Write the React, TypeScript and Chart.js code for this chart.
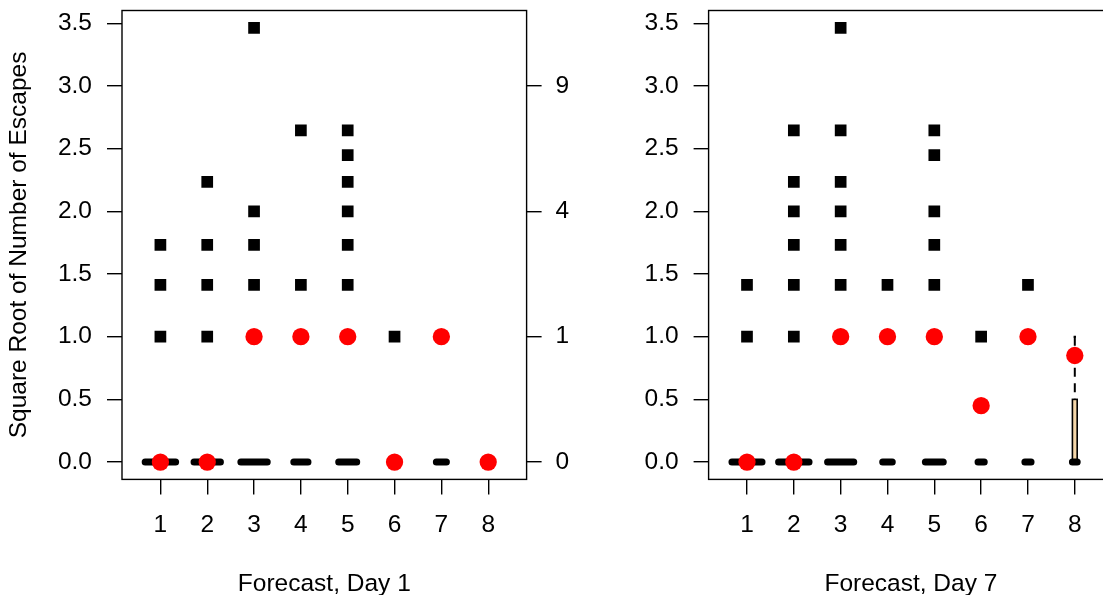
import React, { useEffect, useRef } from "react";
import { Chart, registerables } from "chart.js";

Chart.register(...registerables);

// ---------------- data ----------------
const categories = [1, 2, 3, 4, 5, 6, 7, 8];
const xTickLabels = ["1", "2", "3", "4", "5", "6", "7", "8"];
const yTickValues = [0, 0.5, 1, 1.5, 2, 2.5, 3, 3.5];
const yTickLabels = ["0.0", "0.5", "1.0", "1.5", "2.0", "2.5", "3.0", "3.5"];
const rightTickCounts = [0, 1, 4, 9];

// Day 1 (left panel): outliers as raw escape counts (plotted on sqrt scale)
const day1OutlierCounts: number[][] = [
  [1, 2, 3],
  [1, 2, 3, 5],
  [2, 3, 4, 12],
  [2, 7],
  [2, 3, 4, 5, 6, 7],
  [1],
  [],
  [],
];
const day1Means = [0, 0, 1, 1, 1, 0, 1, 0];
const day1GroupSizes = [120, 90, 90, 26, 42, 8, 13, 3];
const day1Q1 = [0, 0, 0, 0, 0, 0, 0, 0];
const day1Median = [0, 0, 0, 0, 0, 0, 0, 0];
const day1Q3 = [0, 0, 0, 0, 0, 0, 0, 0];
const day1WhiskerLow = [0, 0, 0, 0, 0, 0, 0, 0];
const day1WhiskerHigh = [0, 0, 0, 0, 0, 0, 0, 0];

// Day 7 (right panel)
const day7OutlierCounts: number[][] = [
  [1, 2],
  [1, 2, 3, 4, 5, 7],
  [2, 3, 4, 5, 7, 12],
  [2],
  [2, 3, 4, 6, 7],
  [1],
  [2],
  [],
];
const day7Means = [0, 0, 1, 1, 1, 0.45, 1, 0.85];
const day7GroupSizes = [119, 122, 90, 12, 42, 5, 5, 3];
const day7Q1 = [0, 0, 0, 0, 0, 0, 0, 0];
const day7Median = [0, 0, 0, 0, 0, 0, 0, 0];
const day7Q3 = [0, 0, 0, 0, 0, 0, 0, 0.5];
const day7WhiskerLow = [0, 0, 0, 0, 0, 0, 0, 0];
const day7WhiskerHigh = [0, 0, 0, 0, 0, 0, 0, 1];

const yTitle = "Square Root of Number of Escapes";
const day1Title = "Forecast, Day 1";
const day7Title = "Forecast, Day 7";

// ---------------- styling / layout ----------------
const FONT_FAMILY = "'Liberation Sans', Arial, Helvetica, sans-serif";
const FONT_SIZE = 24.5;
const BOX_WEX = 0.65;
const BOX_FILL = "#F5D7AA";
const CANVAS_H = 620;
const PLOT_TOP = 10.5;
const PLOT_BOTTOM = 479.4;

type Panel = {
  outliers: number[][];
  means: number[];
  n: number[];
  q1: number[];
  med: number[];
  q3: number[];
  lo: number[];
  hi: number[];
  title: string;
  showYTitle: boolean;
  canvasWidth: number;
  leftAxisWidth: number;
  rightAxisWidth: number;
};

function makeBoxPlugin(p: Panel) {
  return {
    id: "rBoxes",
    beforeDatasetsDraw(chart: any) {
      const { ctx } = chart;
      const xs = chart.scales.x;
      const ys = chart.scales.y;
      const nMax = Math.max(...p.n);
      ctx.save();
      categories.forEach((c, i) => {
        const wex = BOX_WEX * Math.sqrt(p.n[i] / nMax);
        const xl = xs.getPixelForValue(c - wex / 2);
        const xr = xs.getPixelForValue(c + wex / 2);
        const xc = xs.getPixelForValue(c);
        const half = (xr - xl) / 2;
        const yq1 = ys.getPixelForValue(p.q1[i]);
        const yq3 = ys.getPixelForValue(p.q3[i]);
        const ymed = ys.getPixelForValue(p.med[i]);
        const ylo = ys.getPixelForValue(p.lo[i]);
        const yhi = ys.getPixelForValue(p.hi[i]);
        ctx.strokeStyle = "#000";
        ctx.lineWidth = 2;
        ctx.lineCap = "butt";
        ctx.setLineDash([9, 6.5]);
        if (p.hi[i] > p.q3[i]) {
          ctx.beginPath();
          ctx.moveTo(xc, yhi);
          ctx.lineTo(xc, yq3);
          ctx.stroke();
        }
        if (p.lo[i] < p.q1[i]) {
          ctx.beginPath();
          ctx.moveTo(xc, ylo);
          ctx.lineTo(xc, yq1);
          ctx.stroke();
        }
        ctx.setLineDash([]);
        // staples
        ctx.beginPath();
        ctx.moveTo(xc - half / 2, yhi);
        ctx.lineTo(xc + half / 2, yhi);
        ctx.moveTo(xc - half / 2, ylo);
        ctx.lineTo(xc + half / 2, ylo);
        ctx.stroke();
        // box
        if (p.q3[i] > p.q1[i]) {
          ctx.fillStyle = BOX_FILL;
          ctx.fillRect(xl, yq3, xr - xl, yq1 - yq3);
          ctx.lineWidth = 1.6;
          ctx.strokeRect(xl, yq3, xr - xl, yq1 - yq3);
        }
        // median
        ctx.lineWidth = 7;
        ctx.lineCap = "round";
        ctx.beginPath();
        ctx.moveTo(xl, ymed);
        ctx.lineTo(xr, ymed);
        ctx.stroke();
      });
      ctx.restore();
    },
    afterDatasetsDraw(chart: any) {
      const { ctx, chartArea } = chart;
      ctx.save();
      ctx.strokeStyle = "#000";
      ctx.lineWidth = 1.4;
      ctx.strokeRect(
        chartArea.left,
        chartArea.top,
        chartArea.right - chartArea.left,
        chartArea.bottom - chartArea.top
      );
      ctx.restore();
    },
  };
}

function buildChart(canvas: HTMLCanvasElement, p: Panel) {
  const font = { family: FONT_FAMILY, size: FONT_SIZE };
  const allVals: number[] = [];
  p.outliers.forEach((arr) => arr.forEach((c) => allVals.push(Math.sqrt(c))));
  allVals.push(...p.lo, ...p.hi);
  const dMin = Math.min(...allVals);
  const dMax = Math.max(...allVals);
  const yMin = dMin - 0.04 * (dMax - dMin);
  const yMax = dMax + 0.04 * (dMax - dMin);
  const xLo = categories[0] - 0.5;
  const xHi = categories[categories.length - 1] + 0.5;
  const xMin = xLo - 0.04 * (xHi - xLo);
  const xMax = xHi + 0.04 * (xHi - xLo);

  const outlierPts: { x: number; y: number }[] = [];
  p.outliers.forEach((arr, i) =>
    arr.forEach((c) => outlierPts.push({ x: categories[i], y: Math.sqrt(c) }))
  );
  const meanPts = p.means.map((m, i) => ({ x: categories[i], y: m }));

  const gridOpts = {
    display: true,
    drawOnChartArea: false,
    drawTicks: true,
    tickLength: 15,
    color: "#000",
    lineWidth: 1.4,
  };

  return new Chart(canvas, {
    type: "scatter",
    data: {
      datasets: [
        {
          label: "outliers",
          data: outlierPts,
          pointStyle: "rect",
          pointRadius: 8.27,
          pointHoverRadius: 8.27,
          pointBackgroundColor: "#000",
          backgroundColor: "#000",
          pointBorderWidth: 0,
          borderWidth: 0,
        } as any,
        {
          label: "means",
          data: meanPts,
          pointStyle: "circle",
          pointRadius: 8.65,
          pointHoverRadius: 8.65,
          pointBackgroundColor: "#FF0000",
          backgroundColor: "#FF0000",
          pointBorderWidth: 0,
          borderWidth: 0,
        } as any,
      ],
    },
    options: {
      animation: false,
      responsive: false,
      events: [],
      layout: { padding: { top: PLOT_TOP, left: 0, right: 0, bottom: 0 } },
      plugins: { legend: { display: false }, tooltip: { enabled: false } },
      scales: {
        x: {
          type: "linear",
          position: "bottom",
          min: xMin,
          max: xMax,
          afterBuildTicks: (s: any) => {
            s.ticks = categories.map((v) => ({ value: v }));
          },
          afterFit: (s: any) => {
            s.height = CANVAS_H - PLOT_BOTTOM;
            s.paddingLeft = 0;
            s.paddingRight = 0;
          },
          ticks: {
            callback: (_v: any, i: number) => xTickLabels[i],
            font,
            color: "#000",
            padding: 16.2,
            autoSkip: false,
            maxRotation: 0,
          },
          grid: gridOpts,
          border: { display: false },
          title: {
            display: true,
            text: p.title,
            font,
            color: "#000",
            padding: { top: 0, bottom: 20.6 },
          },
        },
        y: {
          type: "linear",
          position: "left",
          min: yMin,
          max: yMax,
          afterBuildTicks: (s: any) => {
            s.ticks = yTickValues.map((v) => ({ value: v }));
          },
          afterFit: (s: any) => {
            s.width = p.leftAxisWidth;
            s.paddingTop = 0;
            s.paddingBottom = 0;
          },
          ticks: {
            callback: (_v: any, i: number) => yTickLabels[i],
            font,
            color: "#000",
            padding: 15,
          },
          grid: gridOpts,
          border: { display: false },
          title: {
            display: p.showYTitle,
            text: yTitle,
            font,
            color: "#000",
            padding: { top: 4.6, bottom: 0 },
          },
        },
        y2: {
          type: "linear",
          position: "right",
          min: yMin,
          max: yMax,
          afterBuildTicks: (s: any) => {
            s.ticks = rightTickCounts.map((c) => ({ value: Math.sqrt(c) }));
          },
          afterFit: (s: any) => {
            s.width = p.rightAxisWidth;
            s.paddingTop = 0;
            s.paddingBottom = 0;
          },
          ticks: {
            callback: (_v: any, i: number) => String(rightTickCounts[i]),
            font,
            color: "#000",
            padding: 14,
          },
          grid: gridOpts,
          border: { display: false },
        },
      },
    } as any,
    plugins: [makeBoxPlugin(p)],
  });
}

const leftPanel: Panel = {
  outliers: day1OutlierCounts,
  means: day1Means,
  n: day1GroupSizes,
  q1: day1Q1,
  med: day1Median,
  q3: day1Q3,
  lo: day1WhiskerLow,
  hi: day1WhiskerHigh,
  title: day1Title,
  showYTitle: true,
  canvasWidth: 580,
  leftAxisWidth: 122,
  rightAxisWidth: 580 - 526.6,
};

const rightPanel: Panel = {
  outliers: day7OutlierCounts,
  means: day7Means,
  n: day7GroupSizes,
  q1: day7Q1,
  med: day7Median,
  q3: day7Q3,
  lo: day7WhiskerLow,
  hi: day7WhiskerHigh,
  title: day7Title,
  showYTitle: false,
  canvasWidth: 620,
  leftAxisWidth: 128.6,
  rightAxisWidth: 620 - 533.2,
};

export default function App() {
  const leftRef = useRef<HTMLCanvasElement>(null);
  const rightRef = useRef<HTMLCanvasElement>(null);

  useEffect(() => {
    const c1 = buildChart(leftRef.current!, leftPanel);
    const c2 = buildChart(rightRef.current!, rightPanel);
    return () => {
      c1.destroy();
      c2.destroy();
    };
  }, []);

  return (
    <div
      style={{
        position: "fixed",
        left: 0,
        top: 0,
        width: 1103,
        height: 595,
        overflow: "hidden",
        background: "#fff",
      }}
    >
      <canvas
        ref={leftRef}
        width={leftPanel.canvasWidth}
        height={CANVAS_H}
        style={{ position: "absolute", left: 0, top: 0, width: leftPanel.canvasWidth, height: CANVAS_H }}
      />
      <canvas
        ref={rightRef}
        width={rightPanel.canvasWidth}
        height={CANVAS_H}
        style={{ position: "absolute", left: 580, top: 0, width: rightPanel.canvasWidth, height: CANVAS_H }}
      />
    </div>
  );
}
